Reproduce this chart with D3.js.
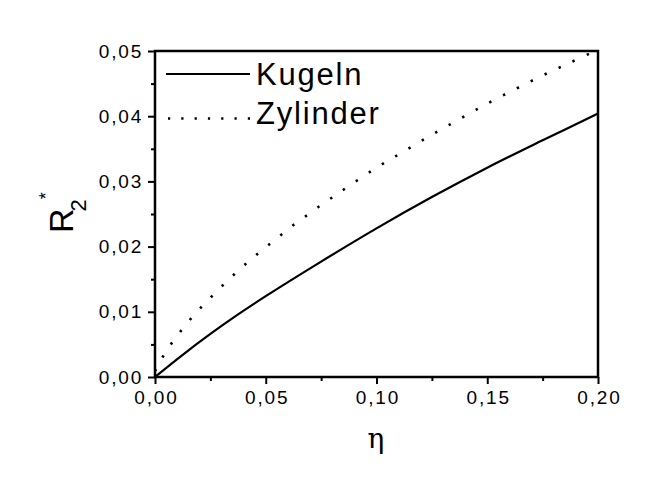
<!DOCTYPE html>
<html><head><meta charset="utf-8">
<script src="https://cdn.jsdelivr.net/npm/d3@7"></script>
<style>body{margin:0;background:#fff}svg{display:block}</style>
</head><body>
<svg id="c" width="654" height="488"></svg>
<script>
// Data
const kugelnEta = [0, 0.0125, 0.025, 0.0375, 0.05, 0.075, 0.1, 0.125, 0.15, 0.175, 0.2];
const kugelnR   = [0, 0.0034, 0.0066, 0.0096, 0.0124, 0.0177, 0.0228, 0.0276, 0.0321, 0.0363, 0.0404];
const zylEta = [0, 0.0033, 0.0075, 0.0123, 0.0175, 0.0233, 0.0295, 0.0358, 0.0421, 0.0484, 0.0548, 0.0611, 0.0674, 0.0737, 0.0801, 0.0864, 0.0989, 0.1116, 0.1242, 0.1368, 0.1494, 0.1621, 0.1747, 0.1873, 0.2];
const zylR   = [0.0009, 0.00296, 0.00517, 0.00732, 0.00946, 0.01155, 0.0137, 0.01575, 0.01768, 0.01948, 0.02121, 0.02296, 0.02449, 0.02607, 0.02756, 0.02903, 0.03186, 0.03446, 0.03701, 0.03942, 0.04182, 0.04406, 0.0462, 0.0482, 0.0502];
const xTicks = [0, 0.05, 0.10, 0.15, 0.20];
const xTickLabels = ["0,00", "0,05", "0,10", "0,15", "0,20"];
const xMinor = [0.025, 0.075, 0.125, 0.175];
const yTicks = [0, 0.01, 0.02, 0.03, 0.04, 0.05];
const yTickLabels = ["0,00", "0,01", "0,02", "0,03", "0,04", "0,05"];
const yMinor = [0.005, 0.015, 0.025, 0.035, 0.045];
const seriesNames = ["Kugeln", "Zylinder"];

const svg = d3.select("#c");
const L = 155, T = 51, W = 443, H = 326;
const x = d3.scaleLinear().domain([0, 0.2]).range([L, L + W]);
const y = d3.scaleLinear().domain([0, 0.05]).range([T + H, T]);
const font = "Arial, 'Liberation Sans', sans-serif";

svg.append("clipPath").attr("id", "pc").append("rect")
  .attr("x", L).attr("y", T - 2).attr("width", W).attr("height", H + 2);

const line = d3.line().x(d => x(d[0])).y(d => y(d[1])).curve(d3.curveCatmullRom.alpha(0.5));
const kData = kugelnEta.map((e, i) => [e, kugelnR[i]]);
const zData = zylEta.map((e, i) => [e, zylR[i]]);

const g = svg.append("g").attr("clip-path", "url(#pc)");
g.append("path").attr("d", line(kData)).attr("fill", "none").attr("stroke", "#000").attr("stroke-width", 2.2);
g.append("path").attr("d", line(zData)).attr("fill", "none").attr("stroke", "#000").attr("stroke-width", 2.6)
  .attr("stroke-dasharray", "2.4,13.1");

// Axes
const xAxis = d3.axisBottom(x).tickValues(xTicks).tickSize(7).tickFormat((d, i) => xTickLabels[i]).tickPadding(7);
const yAxis = d3.axisLeft(y).tickValues(yTicks).tickSize(7).tickFormat((d, i) => yTickLabels[i]).tickPadding(5);
const gx = svg.append("g").attr("transform", `translate(0,${T + H})`).call(xAxis);
const gy = svg.append("g").attr("transform", `translate(${L},0)`).call(yAxis);
const gxm = svg.append("g").attr("transform", `translate(0,${T + H})`).call(d3.axisBottom(x).tickValues(xMinor).tickSize(4).tickFormat(""));
const gym = svg.append("g").attr("transform", `translate(${L},0)`).call(d3.axisLeft(y).tickValues(yMinor).tickSize(4).tickFormat(""));
[gx, gy, gxm, gym].forEach(a => {
  a.select(".domain").remove();
  a.selectAll("line").attr("stroke", "#000").attr("stroke-width", 2);
  a.selectAll("text").attr("font-family", font).attr("font-size", 19).attr("fill", "#000").attr("letter-spacing", 1.8);
});
gx.selectAll("text").attr("dx", "0.9");

// Frame
svg.append("rect").attr("x", L).attr("y", T).attr("width", W).attr("height", H)
  .attr("fill", "none").attr("stroke", "#000").attr("stroke-width", 2.5);

// Axis titles
svg.append("text").attr("x", x(0.1) - 9).attr("y", 448).attr("font-family", "'DejaVu Serif', serif")
  .attr("font-size", 28).attr("fill", "#000").text("η");
const yl = svg.append("text").attr("transform", "translate(73,233) rotate(-90)")
  .attr("font-family", font).attr("font-size", 34).attr("fill", "#000");
yl.append("tspan").text("R");
yl.append("tspan").attr("font-size", 22).attr("dx", -3).attr("dy", 13).text("2");
yl.append("tspan").attr("font-size", 18).attr("dx", 0).attr("dy", -34).text("*");

// Legend
const lg = svg.append("g");
lg.append("line").attr("x1", 166).attr("x2", 250).attr("y1", 74).attr("y2", 74).attr("stroke", "#000").attr("stroke-width", 2.2);
lg.append("line").attr("x1", 168).attr("x2", 250).attr("y1", 118.5).attr("y2", 118.5).attr("stroke", "#000").attr("stroke-width", 2.4)
  .attr("stroke-dasharray", "2.2,11.1");
lg.append("text").attr("x", 256).attr("y", 85).attr("font-family", font).attr("font-size", 31).attr("fill", "#000")
  .attr("letter-spacing", 1.8).text(seriesNames[0]);
lg.append("text").attr("x", 256).attr("y", 123.5).attr("font-family", font).attr("font-size", 31).attr("fill", "#000")
  .attr("letter-spacing", 1.8).text(seriesNames[1]);
</script>
</body></html>
